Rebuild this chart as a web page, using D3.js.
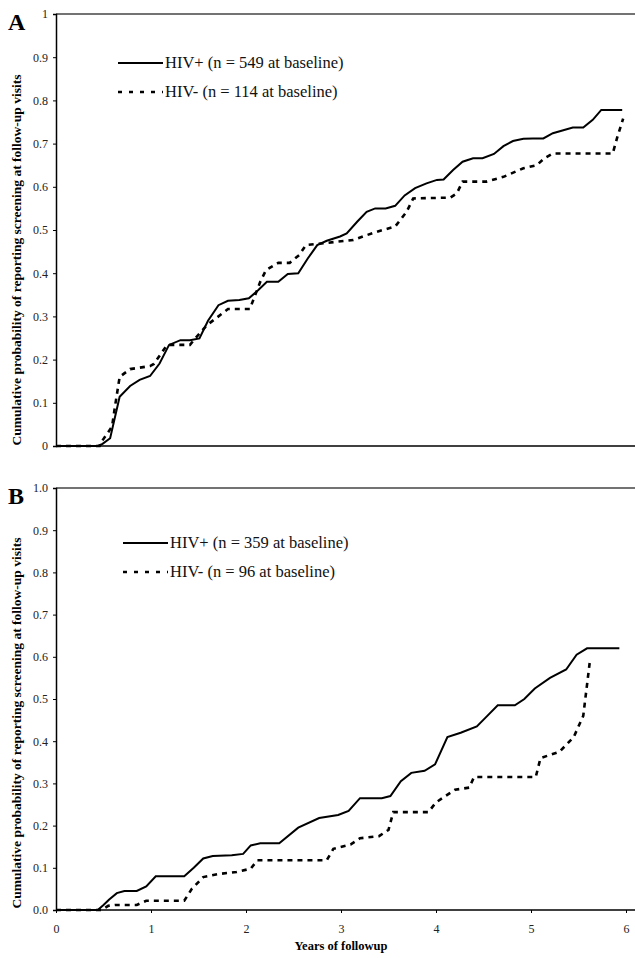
<!DOCTYPE html>
<html>
<head>
<meta charset="utf-8">
<script src="https://cdn.jsdelivr.net/npm/d3@7"></script>
<style>
  body { margin: 0; background: #fff; }
  svg { display: block; font-family: "Liberation Serif", "Times New Roman", serif; }
</style>
</head>
<body>
<div id="chart"></div>
<script>
// panel A - time (years) / cumulative probability
var aPosT = [0,0.44,0.49,0.57,0.67,0.78,0.88,0.99,1.09,1.19,1.31,1.41,1.51,1.60,1.71,1.81,1.93,2.03,2.13,2.22,2.34,2.44,2.55,2.65,2.75,2.85,2.99,3.06,3.17,3.27,3.36,3.47,3.57,3.67,3.78,3.90,4.01,4.08,4.18,4.28,4.39,4.49,4.61,4.71,4.81,4.92,5.02,5.13,5.23,5.34,5.44,5.55,5.65,5.74,5.96];
var aPosV = [0,0,0.005,0.018,0.114,0.139,0.153,0.162,0.191,0.234,0.245,0.245,0.249,0.29,0.326,0.336,0.338,0.342,0.361,0.38,0.38,0.398,0.40,0.434,0.465,0.475,0.485,0.492,0.519,0.542,0.55,0.55,0.556,0.58,0.597,0.608,0.616,0.617,0.639,0.658,0.666,0.666,0.676,0.694,0.706,0.711,0.712,0.712,0.724,0.731,0.737,0.737,0.755,0.778,0.778];
var aNegT = [0,0.46,0.48,0.59,0.62,0.67,0.78,0.99,1.03,1.17,1.41,1.47,1.59,1.71,1.81,2.04,2.15,2.21,2.34,2.46,2.56,2.63,2.76,3.13,3.27,3.38,3.57,3.69,3.76,4.15,4.22,4.28,4.53,4.71,4.92,5.06,5.14,5.23,5.86,5.91,5.97];
var aNegV = [0,0,0.01,0.045,0.09,0.16,0.178,0.185,0.19,0.234,0.234,0.25,0.28,0.30,0.317,0.317,0.38,0.407,0.424,0.424,0.442,0.465,0.468,0.477,0.488,0.496,0.508,0.542,0.573,0.575,0.585,0.612,0.612,0.623,0.643,0.65,0.666,0.677,0.677,0.716,0.758];

// panel B
var bPosT = [0,0.44,0.5,0.56,0.64,0.72,0.85,0.95,1.05,1.35,1.45,1.55,1.65,1.85,1.97,2.05,2.15,2.35,2.55,2.77,2.97,3.08,3.2,3.43,3.52,3.63,3.74,3.88,3.99,4.12,4.26,4.43,4.54,4.65,4.83,4.93,5.04,5.2,5.37,5.48,5.59,5.93];
var bPosV = [0,0,0.012,0.025,0.04,0.045,0.045,0.056,0.08,0.08,0.1,0.122,0.128,0.13,0.133,0.153,0.158,0.158,0.195,0.218,0.225,0.235,0.265,0.265,0.27,0.305,0.325,0.33,0.345,0.41,0.42,0.435,0.46,0.485,0.485,0.5,0.525,0.55,0.57,0.605,0.62,0.62];
var bNegT = [0,0.48,0.55,0.62,0.85,0.95,1.05,1.35,1.43,1.55,1.7,1.9,2.05,2.12,2.85,2.92,3.1,3.2,3.4,3.5,3.55,3.92,4.0,4.2,4.35,4.4,5.05,5.1,5.3,5.45,5.55,5.62];
var bNegV = [0,0,0.01,0.012,0.012,0.022,0.022,0.022,0.05,0.078,0.085,0.09,0.098,0.118,0.118,0.145,0.155,0.17,0.175,0.19,0.232,0.232,0.255,0.285,0.29,0.315,0.315,0.36,0.375,0.41,0.46,0.59];

var xTicks = [0,1,2,3,4,5,6];
var yTicks = [0,0.1,0.2,0.3,0.4,0.5,0.6,0.7,0.8,0.9,1];
var legendA = ["HIV+ (n = 549 at baseline)", "HIV- (n = 114 at baseline)"];
var legendB = ["HIV+ (n = 359 at baseline)", "HIV- (n = 96 at baseline)"];

var width = 635, height = 958;
var svg = d3.select("#chart").append("svg")
    .attr("width", width)
    .attr("height", height);

var xScale = d3.scaleLinear().domain([0, 6]).range([56, 626]);

function zip(t, v) { return t.map((d, i) => [d, v[i]]); }

function drawPanel(p) {
    var yScale = d3.scaleLinear().domain([0, 1]).range([p.bottom, p.top]);
    var g = svg.append("g");

    // top frame line
    g.append("line")
        .attr("x1", 56).attr("x2", width)
        .attr("y1", p.top).attr("y2", p.top)
        .attr("stroke", "#444").attr("stroke-width", 1.3);

    var yAxis = d3.axisLeft(yScale).tickValues(yTicks).tickSize(3).tickPadding(5)
        .tickFormat(p.fmt);
    var ya = g.append("g").attr("transform", "translate(56,0)").call(yAxis);
    ya.select(".domain").attr("stroke-width", 1.5);
    ya.selectAll("text").attr("font-size", 12).attr("font-family", "Liberation Serif").attr("fill", "#222");

    var xAxis = d3.axisBottom(xScale).tickValues(xTicks).tickSize(p.xLabels ? 3 : 0).tickPadding(11)
        .tickFormat(p.xLabels ? d3.format("d") : "");
    var xa = g.append("g").attr("transform", `translate(0,${p.bottom})`).call(xAxis);
    xa.select(".domain").attr("stroke-width", 1.5).attr("d", `M56,0H${width}`);
    xa.selectAll("text").attr("font-size", 12).attr("font-family", "Liberation Serif").attr("fill", "#222");

    var line = d3.line().x(d => xScale(d[0])).y(d => yScale(d[1]));

    g.append("path").datum(zip(p.posT, p.posV))
        .attr("fill", "none").attr("stroke", "#000").attr("stroke-width", 2)
        .attr("d", line);
    g.append("path").datum(zip(p.negT, p.negV))
        .attr("fill", "none").attr("stroke", "#000").attr("stroke-width", 2.6)
        .attr("stroke-dasharray", "5,5")
        .attr("d", line);

    // panel letter
    g.append("text").attr("x", 8).attr("y", p.top + 16)
        .attr("font-size", 24).attr("font-weight", "bold").text(p.letter);

    // y axis title
    g.append("text")
        .attr("transform", `translate(21,${p.labelY}) rotate(-90)`)
        .attr("text-anchor", "middle")
        .attr("font-size", 13.5).attr("font-weight", "bold")
        .text("Cumulative probability of reporting screening at follow-up visits");

    // legend
    p.legend.forEach((txt, i) => {
        var ly = p.legY + i * 29;
        g.append("line")
            .attr("x1", p.legX).attr("x2", p.legX + 45)
            .attr("y1", ly).attr("y2", ly)
            .attr("stroke", "#000").attr("stroke-width", i === 0 ? 2 : 2.6)
            .attr("stroke-dasharray", i === 0 ? null : "4,7");
        g.append("text").attr("x", p.legX + 47).attr("y", ly + 5)
            .attr("font-size", 16.5).attr("fill", "#111").text(txt);
    });
}

drawPanel({letter: "A", top: 14, bottom: 446, posT: aPosT, posV: aPosV, negT: aNegT, negV: aNegV,
    fmt: d => (d === 0 ? "0" : d === 1 ? "1" : d.toFixed(1)), xLabels: false,
    labelY: 260, legend: legendA, legX: 118, legY: 63});

drawPanel({letter: "B", top: 488, bottom: 910, posT: bPosT, posV: bPosV, negT: bNegT, negV: bNegV,
    fmt: d => d.toFixed(1), xLabels: true,
    labelY: 723, legend: legendB, legX: 123, legY: 543});

svg.append("text").attr("x", xScale(3)).attr("y", 950)
    .attr("text-anchor", "middle").attr("font-size", 12.5).attr("font-weight", "bold")
    .text("Years of followup");
</script>
</body>
</html>
